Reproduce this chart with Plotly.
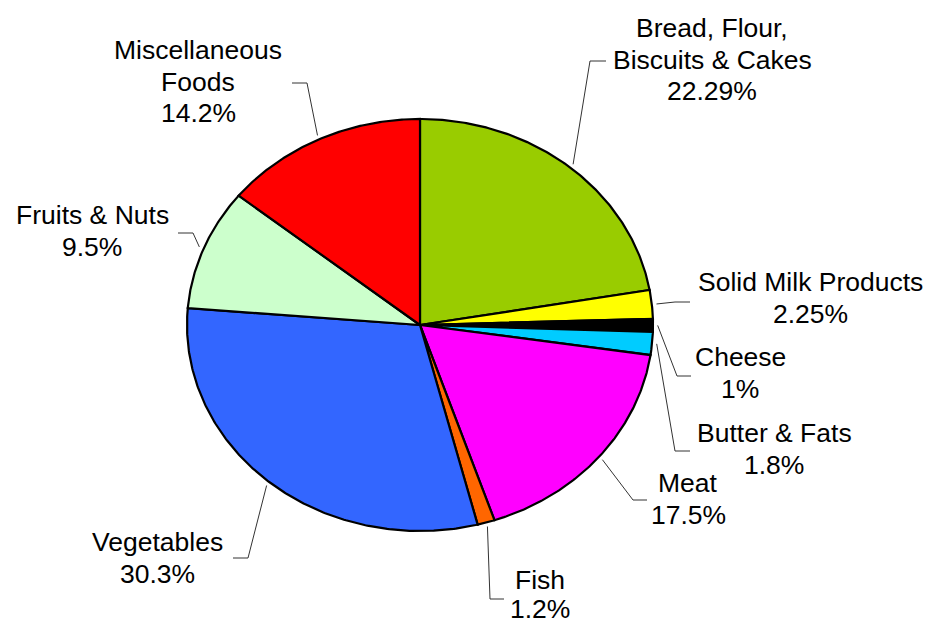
import math
import plotly.graph_objects as go

# Share of household food expenditure by category (percent)
categories = [
    "Bread, Flour,<br>Biscuits & Cakes",
    "Solid Milk Products",
    "Cheese",
    "Butter & Fats",
    "Meat",
    "Fish",
    "Vegetables",
    "Fruits & Nuts",
    "Miscellaneous<br>Foods",
]
values = [22.29, 2.25, 1, 1.8, 17.5, 1.2, 30.3, 9.5, 14.2]
value_labels = ["22.29%", "2.25%", "1%", "1.8%", "17.5%", "1.2%", "30.3%", "9.5%", "14.2%"]
colors = ["#99CC00", "#FFFF00", "#000000", "#00CCFF", "#FF00FF",
          "#FF6600", "#3366FF", "#CCFFCC", "#FF0000"]

# Page geometry (pixel frame) and the flattened pie ellipse
W, H = 931, 626
CX, CY, RX, RY = 420, 325, 233, 206

# Label placement: text centre x, first-line y, line gap, leader elbow and end
label_layout = [
    dict(x=712, y=28, gap=31.5, elbow=(590, 61), end=(606, 61)),
    dict(x=810, y=282, gap=31.5, elbow=(675, 302), end=(690, 302)),
    dict(x=740, y=357, gap=31.5, elbow=(677, 376), end=(691, 376)),
    dict(x=774, y=433, gap=31.5, elbow=(675, 451), end=(690, 451)),
    dict(x=688, y=483, gap=31.5, elbow=(633, 500), end=(647, 500)),
    dict(x=540, y=580, gap=29, elbow=(490, 599), end=(504, 599)),
    dict(x=157, y=542, gap=31.5, elbow=(248, 558), end=(233, 558)),
    dict(x=92, y=215, gap=31.5, elbow=(193, 233), end=(178, 233)),
    dict(x=198, y=50, gap=31.5, elbow=(307, 83), end=(292, 83)),
]
FONT = "Liberation Sans, Arial, sans-serif"
FONT_SIZE = 26.5


def edge_point(theta_deg, scale=1.0):
    t = math.radians(theta_deg)
    return CX + scale * RX * math.sin(t), CY - scale * RY * math.cos(t)


total = sum(values)
fig = go.Figure()
annotations = []

cum = 0.0
for name, v, vl, col, lay in zip(categories, values, value_labels, colors, label_layout):
    a0 = cum / total * 360.0
    a1 = (cum + v) / total * 360.0
    cum += v
    n = max(4, int((a1 - a0) / 0.5) + 1)
    xs, ys = [CX], [CY]
    for i in range(n + 1):
        px, py = edge_point(a0 + (a1 - a0) * i / n)
        xs.append(px)
        ys.append(py)
    xs.append(CX)
    ys.append(CY)
    fig.add_trace(go.Scatter(
        x=xs, y=ys, mode="lines", fill="toself", fillcolor=col,
        line=dict(color="black", width=2.2), hoverinfo="skip", showlegend=False,
    ))

    # leader line from the slice's mid-angle on the rim to the label
    sx, sy = edge_point((a0 + a1) / 2.0, 1.02)
    fig.add_trace(go.Scatter(
        x=[sx, lay["elbow"][0], lay["end"][0]],
        y=[sy, lay["elbow"][1], lay["end"][1]],
        mode="lines", line=dict(color="#333333", width=1),
        hoverinfo="skip", showlegend=False,
    ))

    lines = name.split("<br>") + [vl]
    for k, txt in enumerate(lines):
        annotations.append(dict(
            x=lay["x"], y=lay["y"] + k * lay["gap"], xref="x", yref="y",
            text=txt, showarrow=False, xanchor="center", yanchor="middle",
            font=dict(family=FONT, size=FONT_SIZE, color="black"),
        ))

fig.update_layout(
    width=W, height=H,
    margin=dict(l=0, r=0, t=0, b=0),
    paper_bgcolor="white", plot_bgcolor="white",
    xaxis=dict(range=[0, W], visible=False, fixedrange=True),
    yaxis=dict(range=[H, 0], visible=False, fixedrange=True),
    annotations=annotations,
)

fig.write_html("out.html")
